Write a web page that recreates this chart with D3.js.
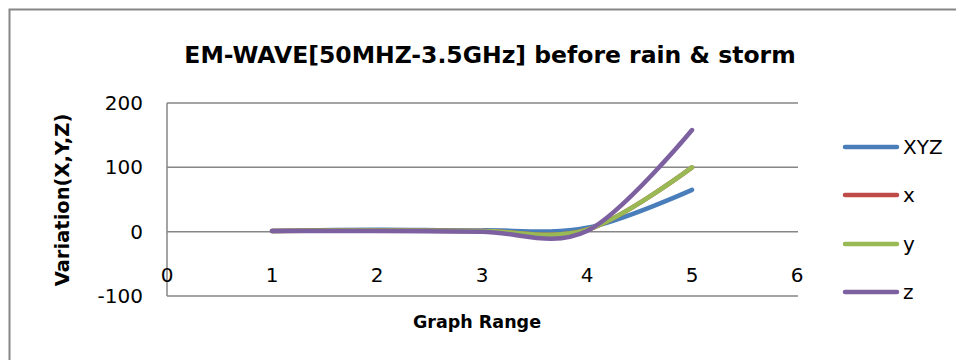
<!DOCTYPE html>
<html>
<head>
<meta charset="utf-8">
<script src="https://cdn.jsdelivr.net/npm/d3@7"></script>
<style>
  body { margin: 0; background: #fff; }
  svg { display: block; }
</style>
</head>
<body>
<div id="chart"></div>
<script>
// data
const xValues = [1, 2, 3, 4, 5];
const seriesNames = ["XYZ", "x", "y", "z"];
const xyzValues = [1, 3, 2, 6, 65];
const xSeriesValues = [1, 2, 1, 3, 100];
const ySeriesValues = [1, 2, 1, 3, 100];
const zSeriesValues = [1, 1, 0, 1, 158];
const colors = ["#4a7ebb", "#be4b48", "#98b954", "#7d60a0"];
const xTicks = [0, 1, 2, 3, 4, 5, 6];
const yTicks = [-100, 0, 100, 200];

function draw() {
  const w = 956, h = 360;
  const font = "DejaVu Sans, sans-serif";

  const svg = d3.select("#chart").append("svg")
    .attr("width", w)
    .attr("height", h);

  // outer chart frame
  svg.append("rect")
    .attr("x", 9.5).attr("y", 9.5)
    .attr("width", w).attr("height", h)
    .attr("fill", "#fff")
    .attr("stroke", "#868686")
    .attr("stroke-width", 2);

  const xScale = d3.scaleLinear().domain([0, 6]).range([167, 797]);
  const yScale = d3.scaleLinear().domain([-100, 200]).range([296, 103]);

  // gridlines
  svg.append("g")
    .selectAll("line")
    .data(yTicks)
    .join("line")
    .attr("x1", xScale(0)).attr("x2", xScale(6) + 1)
    .attr("y1", d => yScale(d)).attr("y2", d => yScale(d))
    .attr("stroke", "#868686")
    .attr("stroke-width", 1.5);

  // y axis line
  svg.append("line")
    .attr("x1", xScale(0)).attr("x2", xScale(0))
    .attr("y1", yScale(200)).attr("y2", yScale(-100))
    .attr("stroke", "#868686")
    .attr("stroke-width", 1.5);

  // y tick labels
  svg.append("g")
    .selectAll("text")
    .data(yTicks)
    .join("text")
    .attr("x", 143)
    .attr("y", d => yScale(d) + 7)
    .attr("text-anchor", "end")
    .attr("font-family", font)
    .attr("font-size", 20)
    .attr("fill", "#000")
    .text(d => d);

  // x tick labels
  svg.append("g")
    .selectAll("text")
    .data(xTicks)
    .join("text")
    .attr("x", d => xScale(d))
    .attr("y", 282)
    .attr("text-anchor", "middle")
    .attr("font-family", font)
    .attr("font-size", 20)
    .attr("fill", "#000")
    .text(d => d);

  // lines
  const series = [xyzValues, xSeriesValues, ySeriesValues, zSeriesValues];
  const line = d3.line()
    .x((d, i) => xScale(xValues[i]))
    .y(d => yScale(d))
    .curve(d3.curveCatmullRom.alpha(0));

  svg.append("g")
    .selectAll("path")
    .data(series)
    .join("path")
    .attr("d", d => line(d))
    .attr("fill", "none")
    .attr("stroke", (d, i) => colors[i])
    .attr("stroke-width", 4.5)
    .attr("stroke-linecap", "round")
    .attr("stroke-linejoin", "round");

  // title
  svg.append("text")
    .attr("x", 490)
    .attr("y", 63)
    .attr("text-anchor", "middle")
    .attr("font-family", font)
    .attr("font-weight", "bold")
    .attr("font-size", 23.5)
    .text("EM-WAVE[50MHZ-3.5GHz] before rain & storm");

  // axis titles
  svg.append("text")
    .attr("x", 477)
    .attr("y", 328)
    .attr("text-anchor", "middle")
    .attr("font-family", font)
    .attr("font-weight", "bold")
    .attr("font-size", 17.5)
    .text("Graph Range");

  svg.append("text")
    .attr("transform", "translate(69,200) rotate(-90)")
    .attr("text-anchor", "middle")
    .attr("font-family", font)
    .attr("font-weight", "bold")
    .attr("font-size", 19.5)
    .text("Variation(X,Y,Z)");

  // legend
  const legendY = [147, 195, 244, 292];
  const legend = svg.append("g")
    .selectAll("g")
    .data(seriesNames)
    .join("g")
    .attr("transform", (d, i) => `translate(0,${legendY[i]})`);

  legend.append("line")
    .attr("x1", 845).attr("x2", 897)
    .attr("stroke", (d, i) => colors[i])
    .attr("stroke-width", 4.5)
    .attr("stroke-linecap", "round");

  legend.append("text")
    .attr("x", 903)
    .attr("y", 7)
    .attr("font-family", font)
    .attr("font-size", 20)
    .text(d => d);
}

draw();
</script>
</body>
</html>
